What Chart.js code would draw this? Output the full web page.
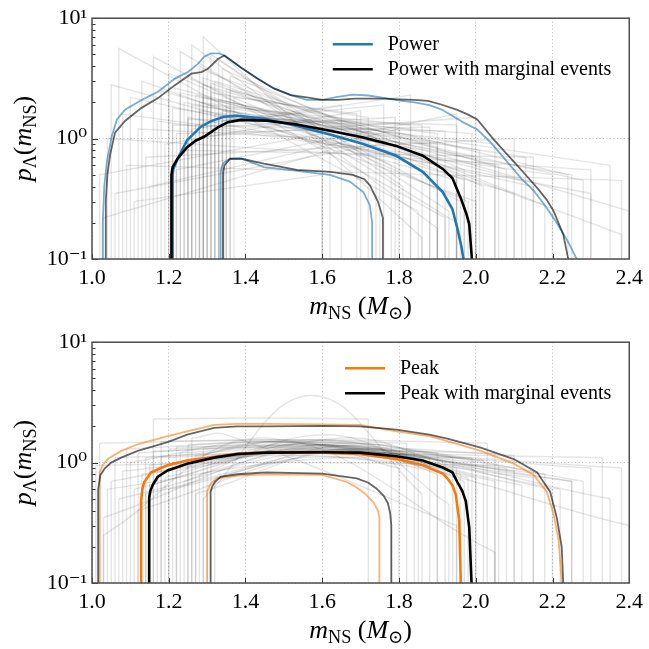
<!DOCTYPE html>
<html><head><meta charset="utf-8">
<script src="https://cdn.jsdelivr.net/npm/chart.js@4.4.1/dist/chart.umd.min.js"></script>
<style>
html,body{margin:0;padding:0;background:#fff;width:649px;height:649px;overflow:hidden}
canvas{position:absolute;left:0}
</style></head>
<body>
<canvas id="cTop" width="649" height="325" style="top:0px;width:649px;height:325px"></canvas>
<canvas id="cBot" width="649" height="325" style="top:324px;width:649px;height:325px"></canvas>
<script>
// ---------- axes ----------
const FLOOR = 0.05;               // below the visible range: curves fall off the bottom
const xTickValues = [1.0, 1.2, 1.4, 1.6, 1.8, 2.0, 2.2, 2.4];
const yTickValues = [0.1, 1, 10];
const yTickLabels = ['10\u207B\u00B9', '10\u2070', '10\u00B9'];
const yMinorTicks = [0.2,0.3,0.4,0.5,0.6,0.7,0.8,0.9,2,3,4,5,6,7,8,9];

// ---------- top panel : Power ----------
const powerLabels = ['Power', 'Power with marginal events'];
const powerMedX = [1.21,1.212,1.223,1.248,1.283,1.309,1.343,1.378,1.415,1.455,1.534,1.62,1.707,1.793,1.862,1.914,1.939,1.952,1.962,1.968];
const powerMedY = [0.5,0.56,0.68,0.97,1.25,1.39,1.52,1.55,1.5,1.45,1.27,1.08,0.9,0.72,0.53,0.36,0.26,0.18,0.13,0.1];
const powerHiX = [1.028,1.032,1.039,1.052,1.065,1.086,1.129,1.172,1.216,1.25,1.276,1.293,1.31,1.331,1.345,1.388,1.431,1.474,1.518,1.56,1.60,1.64,1.68,1.72,1.76,1.793,1.84,1.879,1.91,1.939,1.97,2.004,2.04,2.082,2.12,2.151,2.18,2.211,2.24,2.263];
const powerHiY = [0.2,0.4,0.65,1.06,1.44,1.74,2.09,2.45,3.15,3.57,4.17,4.8,5.1,5.1,4.9,3.9,3.15,2.61,2.3,2.1,2.1,2.22,2.32,2.28,2.18,2.09,2.0,1.9,1.75,1.55,1.35,1.19,0.92,0.64,0.46,0.37,0.28,0.2,0.14,0.1];
const powerLoX = [1.335,1.338,1.343,1.36,1.39,1.448,1.534,1.62,1.672,1.707,1.724,1.73];
const powerLoY = [0.52,0.58,0.63,0.68,0.68,0.58,0.54,0.5,0.44,0.36,0.28,0.2];
const powerMargMedX = [1.207,1.21,1.223,1.248,1.27,1.293,1.328,1.354,1.388,1.455,1.534,1.62,1.707,1.793,1.862,1.914,1.939,1.961,1.975,1.983,1.99];
const powerMargMedY = [0.5,0.58,0.68,0.85,0.96,1.04,1.24,1.37,1.43,1.41,1.31,1.16,1.02,0.87,0.72,0.56,0.47,0.32,0.24,0.195,0.1];
const powerMargHiX = [1.036,1.04,1.047,1.06,1.086,1.129,1.172,1.216,1.259,1.285,1.302,1.328,1.345,1.388,1.431,1.474,1.518,1.56,1.60,1.64,1.685,1.72,1.763,1.80,1.84,1.875,1.91,1.952,1.98,2.004,2.047,2.08,2.108,2.135,2.16,2.185,2.203,2.228,2.241];
const powerMargHiY = [0.3,0.5,0.73,1.12,1.4,1.8,2.17,2.78,3.46,3.57,3.8,4.58,4.9,3.9,3.15,2.61,2.3,2.2,2.1,2.1,2.15,2.15,2.15,2.12,2.1,2.06,1.92,1.73,1.58,1.44,0.98,0.75,0.6,0.48,0.39,0.31,0.25,0.16,0.1];
const powerMargLoX = [1.342,1.345,1.36,1.39,1.448,1.534,1.62,1.68,1.71,1.724,1.745,1.758];
const powerMargLoY = [0.52,0.6,0.68,0.68,0.62,0.55,0.53,0.5,0.46,0.41,0.3,0.22];
// posterior draws of the power model: value at m_min and at m_max
const powerSampMmin = [1.03,1.04,1.05,1.06,1.07,1.08,1.09,1.10,1.12,1.13,1.15,1.16,1.17,1.18,1.19,1.20,1.21,1.22,1.23,1.24,1.25,1.25,1.26,1.27,1.27,1.28,1.28,1.29,1.29,1.30,1.30,1.31,1.31,1.32,1.32,1.33,1.33,1.34,1.34,1.35,1.35,1.36,1.37,1.22,1.02,1.14,1.26,1.30,1.11,1.20,1.24,1.28,1.33,1.36,1.29,1.21,1.23,1.26,1.31,1.34,1.25,1.29,1.32];
const powerSampPmin = [0.22,1.0,2.8,0.35,5.6,1.6,0.6,2.2,1.2,3.0,0.4,4.8,1.4,2.5,0.9,3.5,1.8,1.1,5.3,2.0,3.2,1.5,6.0,2.3,1.3,4.0,1.7,2.8,7.0,1.9,3.6,2.4,5.0,1.6,3.0,4.5,2.1,1.4,3.8,2.6,1.8,3.3,2.2,0.55,0.5,0.7,1.2,1.05,0.3,2.7,0.8,2.0,1.5,2.5,3.2,1.3,2.4,1.9,2.9,1.7,1.45,2.2,1.25];
const powerSampMmax = [1.62,2.3,1.95,1.75,1.85,2.05,2.38,2.15,1.9,2.0,1.8,1.92,2.2,2.1,1.7,1.98,2.25,1.88,1.95,2.0,1.78,2.3,1.9,2.12,1.65,1.96,2.05,2.4,1.86,1.83,2.18,1.72,1.93,1.99,2.08,1.81,2.28,1.76,2.02,1.9,2.35,1.97,1.69,1.95,1.6,2.1,1.83,2.0,1.6,1.74,2.15,1.9,1.95,2.24,2.38,1.92,2.06,1.88,1.97,2.13,1.86,2.01,1.79];
const powerSampPmax = [0.8,0.55,0.45,0.9,0.25,0.6,0.45,0.4,0.9,0.3,1.2,0.22,0.5,0.35,1.7,0.3,0.5,1.25,0.2,0.7,0.6,0.35,0.18,0.45,1.9,0.3,0.9,0.25,0.15,1.3,0.28,1.5,0.25,1.1,0.55,0.4,0.45,1.9,0.4,0.85,0.6,0.55,1.6,1.6,1.1,1.0,2.3,1.5,0.5,1.0,0.7,1.1,1.3,0.5,0.16,1.15,0.6,0.95,0.45,0.7,1.3,0.8,1.5];

// ---------- bottom panel : Peak ----------
const peakLabels = ['Peak', 'Peak with marginal events'];
const peakMedX = [1.128,1.131,1.136,1.154,1.197,1.248,1.318,1.38,1.455,1.60,1.698,1.793,1.862,1.914,1.926,1.939,1.948,1.957,1.961];
const peakMedY = [0.48,0.6,0.69,0.83,0.95,1.04,1.12,1.19,1.21,1.21,1.18,1.07,0.95,0.81,0.74,0.65,0.54,0.33,0.1];
const peakHiX = [1.02,1.028,1.041,1.076,1.119,1.197,1.248,1.318,1.378,1.455,1.60,1.698,1.793,1.879,1.926,2.013,2.099,2.151,2.185,2.203,2.216,2.224];
const peakHiY = [0.83,0.95,1.07,1.25,1.42,1.66,1.82,2.06,2.1,2.1,2.08,2.06,1.82,1.66,1.51,1.25,0.98,0.79,0.57,0.37,0.225,0.1];
const peakLoX = [1.30,1.304,1.309,1.326,1.378,1.455,1.60,1.664,1.69,1.715,1.735,1.745,1.749];
const peakLoY = [0.57,0.62,0.67,0.74,0.78,0.8,0.79,0.69,0.62,0.54,0.46,0.4,0.35];
const peakMargMedX = [1.149,1.152,1.158,1.171,1.197,1.248,1.318,1.38,1.455,1.60,1.698,1.793,1.862,1.914,1.939,1.952,1.965,1.974,1.983,1.989];
const peakMargMedY = [0.51,0.58,0.65,0.76,0.86,0.98,1.1,1.18,1.21,1.22,1.21,1.13,1.04,0.91,0.83,0.69,0.58,0.48,0.29,0.1];
const peakMargHiX = [1.016,1.022,1.033,1.05,1.076,1.119,1.197,1.248,1.318,1.378,1.455,1.60,1.698,1.793,1.879,1.926,2.013,2.099,2.16,2.194,2.211,2.224,2.228];
const peakMargHiY = [0.6,0.79,0.89,1.0,1.1,1.25,1.48,1.71,1.94,2.0,2.0,2.02,2.0,1.88,1.71,1.58,1.33,1.07,0.83,0.57,0.35,0.2,0.1];
const peakMargLoX = [1.309,1.313,1.32,1.335,1.378,1.455,1.60,1.69,1.72,1.741,1.76,1.771,1.777,1.78];
const peakMargLoY = [0.57,0.63,0.69,0.76,0.8,0.83,0.81,0.74,0.68,0.61,0.53,0.46,0.38,0.3];
// posterior draws of the peak model: value at m_min, at the top, at m_max
const peakSampMmin = [1.01,1.02,1.16,1.29,1.03,1.05,1.07,1.08,1.10,1.11,1.12,1.13,1.14,1.15,1.16,1.17,1.18,1.19,1.20,1.21,1.22,1.23,1.24,1.25,1.26,1.27,1.28,1.29,1.30,1.31,1.32,1.12,1.06,1.09,1.14,1.18,1.22,1.25,1.04,1.20,1.27,1.15,1.03,1.26];
const peakSampPmin = [0.95,1.45,2.3,0.5,0.35,0.7,0.5,0.85,1.0,0.6,1.2,0.8,1.1,0.65,1.25,0.9,1.1,0.75,1.3,1.0,0.85,1.2,0.7,1.05,0.9,1.15,0.8,1.3,0.95,1.1,0.75,0.4,1.1,1.3,0.55,1.5,1.35,1.4,0.6,0.6,0.55,0.95,0.25,1.6];
const peakSampMtop = [1.5,1.55,1.44,1.57,1.6,1.55,1.65,1.5,1.45,1.6,1.5,1.55,1.6,1.65,1.55,1.5,1.6,1.55,1.6,1.65,1.6,1.55,1.6,1.6,1.65,1.55,1.6,1.6,1.6,1.62,1.7,1.6,1.5,1.55,1.7,1.5,1.6,1.5,1.55,1.65,1.7,1.55,1.45,1.35];
const peakSampPtop = [1.0,1.55,2.35,3.6,1.35,1.3,1.25,1.15,1.5,1.4,1.4,1.2,1.35,1.6,1.3,1.5,1.25,1.45,1.4,1.3,1.55,1.35,1.7,1.3,1.45,1.5,1.35,1.4,1.5,1.25,1.4,1.2,1.2,1.45,1.3,1.55,1.4,1.5,1.05,1.1,1.3,1.25,1.6,1.7];
const peakSampMmax = [2.06,2.03,1.72,1.86,2.2,2.1,2.35,1.95,1.85,2.05,1.9,2.15,2.0,1.92,2.25,1.98,2.3,1.88,2.12,2.02,1.96,2.18,1.9,2.08,1.94,2.22,2.0,1.84,2.15,2.38,1.97,1.8,2.33,2.25,2.28,1.82,2.1,1.78,1.99,2.4,1.93,2.05,2.05,1.95];
const peakSampPmax = [0.95,1.45,2.3,0.55,0.6,0.85,0.5,0.9,1.0,0.7,1.2,0.75,1.0,1.0,0.7,0.75,0.9,1.1,0.65,1.05,0.8,0.8,0.8,0.9,1.1,0.6,0.75,1.2,0.85,0.9,0.7,0.9,1.1,0.7,0.7,1.45,1.15,1.4,1.1,0.3,0.45,1.2,0.18,0.3];

// ---------- styles ----------
const SERIF = '"Liberation Serif", "DejaVu Serif", serif';
const BLUE = '#1f77b4', BLUE_BAND = 'rgba(31,119,180,0.6)';
const ORANGE = '#f8780c', ORANGE_BAND = 'rgba(255,127,14,0.6)';
const BLACK = '#000000', GREY_BAND = 'rgba(0,0,0,0.6)';
const SAMPLE = 'rgba(0,0,0,0.1)';

function curvePoints(xs, ys) {
  const pts = [{x: xs[0], y: FLOOR}];
  xs.forEach((x, i) => pts.push({x: x, y: ys[i]}));
  pts.push({x: xs[xs.length - 1], y: FLOOR});
  return pts;
}
function mainSet(xs, ys, color, width, label, legendIdx) {
  const d = {data: curvePoints(xs, ys), borderColor: color, borderWidth: width,
             pointRadius: 0, tension: 0, clip: 0, fill: false, label: label || ''};
  if (legendIdx !== undefined) d.legendIdx = legendIdx;
  return d;
}
function sampleStyle(d) {
  return Object.assign({borderColor: SAMPLE, borderWidth: 1.5, pointRadius: 0, clip: 0, fill: false, label: ''}, d);
}
function powerSamples() {
  return powerSampMmin.map((m0, i) => sampleStyle({tension: 0, data: [
    {x: m0, y: FLOOR}, {x: m0, y: powerSampPmin[i]},
    {x: powerSampMmax[i], y: powerSampPmax[i]}, {x: powerSampMmax[i], y: FLOOR}]}));
}
function peakSamples() {
  const out = [];
  peakSampMmin.forEach((m0, i) => {
    out.push(sampleStyle({tension: 0, spanGaps: false, data: [
      {x: m0, y: FLOOR}, {x: m0, y: peakSampPmin[i]}, {x: peakSampMtop[i], y: null},
      {x: peakSampMmax[i], y: peakSampPmax[i]}, {x: peakSampMmax[i], y: FLOOR}]}));
    out.push(sampleStyle({tension: 0.4, data: [
      {x: m0, y: peakSampPmin[i]}, {x: peakSampMtop[i], y: peakSampPtop[i]},
      {x: peakSampMmax[i], y: peakSampPmax[i]}]}));
  });
  return out;
}

// rich text (italic / subscript) for axis titles
function richWidth(ctx, segs, size) {
  let w = 0;
  segs.forEach(s => { const fs = s.sub ? size * 0.7 : size;
    ctx.font = (s.it ? 'italic ' : '') + fs + 'px ' + SERIF; w += ctx.measureText(s.t).width; });
  return w;
}
function drawRich(ctx, segs, size) {
  let x = -richWidth(ctx, segs, size) / 2;
  segs.forEach(s => { const fs = s.sub ? size * 0.7 : size;
    ctx.font = (s.it ? 'italic ' : '') + fs + 'px ' + SERIF;
    ctx.fillText(s.t, x, s.sub ? size * 0.2 : 0); x += ctx.measureText(s.t).width; });
}
const xTitle = [{t:'m', it:true}, {t:'NS', sub:true}, {t:' ('}, {t:'M', it:true}, {t:'\u2299', sub:true}, {t:')'}];
const yTitle = [{t:'p', it:true}, {t:'\u039B', sub:true}, {t:'('}, {t:'m', it:true}, {t:'NS', sub:true}, {t:')'}];

const decor = {
  id: 'decor',
  afterDatasetsDraw(chart) {
    const {ctx, chartArea: a, scales: {x, y}} = chart;
    ctx.save();
    ctx.strokeStyle = '#333'; ctx.lineWidth = 1;
    ctx.beginPath();
    x.ticks.forEach(t => { const p = Math.round(x.getPixelForValue(t.value)) + 0.5;
      ctx.moveTo(p, a.bottom); ctx.lineTo(p, a.bottom - 5); });
    y.ticks.forEach(t => { const p = Math.round(y.getPixelForValue(t.value)) + 0.5;
      ctx.moveTo(a.left, p); ctx.lineTo(a.left + 6, p); });
    yMinorTicks.forEach(v => { const p = Math.round(y.getPixelForValue(v)) + 0.5;
      ctx.moveTo(a.left, p); ctx.lineTo(a.left + 3.5, p); });
    ctx.stroke();
    ctx.strokeStyle = '#4d4d4d'; ctx.lineWidth = 1.5;
    ctx.strokeRect(a.left, a.top, a.right - a.left, a.bottom - a.top);
    ctx.restore();
  },
  afterDraw(chart) {
    const {ctx, chartArea: a} = chart;
    ctx.save();
    ctx.fillStyle = '#000'; ctx.textBaseline = 'alphabetic'; ctx.textAlign = 'left';
    ctx.save(); ctx.translate((a.left + a.right) / 2, a.bottom + 55); drawRich(ctx, xTitle, 26); ctx.restore();
    ctx.save(); ctx.translate(31, (a.top + a.bottom) / 2); ctx.rotate(-Math.PI / 2); drawRich(ctx, yTitle, 26); ctx.restore();
    const items = chart.data.datasets.filter(d => d.legendIdx !== undefined).sort((p, q) => p.legendIdx - q.legendIdx);
    ctx.font = '20px ' + SERIF;
    const maxW = Math.max(...items.map(d => ctx.measureText(d.label).width));
    const tx = a.right - 18 - maxW;
    ctx.textBaseline = 'middle';
    items.forEach((d, i) => {
      const yy = a.top + 26 + i * 25;
      ctx.strokeStyle = d.borderColor; ctx.lineWidth = 2.6;
      ctx.beginPath(); ctx.moveTo(tx - 55, yy); ctx.lineTo(tx - 15, yy); ctx.stroke();
      ctx.fillText(d.label, tx, yy + 1);
    });
    ctx.restore();
  }
};

function makeChart(id, datasets) {
  return new Chart(document.getElementById(id), {
    type: 'line',
    data: {datasets: datasets},
    plugins: [decor],
    options: {
      responsive: false, animation: false, events: [],
      layout: {padding: {top: 13, right: 16, left: 0, bottom: 0}},
      plugins: {legend: {display: false}, tooltip: {enabled: false}},
      scales: {
        x: {type: 'linear', min: 1.0, max: 2.4,
            afterBuildTicks: s => { s.ticks = xTickValues.map(v => ({value: v})); },
            afterFit: s => { s.height = 66; },
            ticks: {autoSkip: false, maxRotation: 0, padding: 6, color: '#000',
                    font: {family: SERIF, size: 22}, callback: v => Number(v).toFixed(1)},
            grid: {color: '#b3b3b3', lineWidth: 0.9, drawTicks: false},
            border: {display: false, dash: [1, 2.5]}},
        y: {type: 'logarithmic', min: 0.1, max: 10,
            afterBuildTicks: s => { s.ticks = yTickValues.map(v => ({value: v, major: true})); },
            afterFit: s => { s.width = 92; },
            ticks: {autoSkip: false, padding: 5, color: '#000',
                    font: {family: SERIF, size: 22}, callback: v => yTickLabels[yTickValues.indexOf(v)]},
            grid: {color: '#b3b3b3', lineWidth: 0.9, drawTicks: false},
            border: {display: false, dash: [1, 2.5]}}
      }
    }
  });
}

makeChart('cTop', [
  mainSet(powerMargMedX, powerMargMedY, BLACK, 2.6, powerLabels[1], 1),
  mainSet(powerMedX, powerMedY, BLUE, 2.6, powerLabels[0], 0),
  mainSet(powerMargHiX, powerMargHiY, GREY_BAND, 1.8),
  mainSet(powerHiX, powerHiY, BLUE_BAND, 1.8),
  mainSet(powerMargLoX, powerMargLoY, GREY_BAND, 1.8),
  mainSet(powerLoX, powerLoY, BLUE_BAND, 1.8)
].concat(powerSamples()));

makeChart('cBot', [
  mainSet(peakMargMedX, peakMargMedY, BLACK, 2.6, peakLabels[1], 1),
  mainSet(peakMedX, peakMedY, ORANGE, 2.6, peakLabels[0], 0),
  mainSet(peakMargHiX, peakMargHiY, GREY_BAND, 1.8),
  mainSet(peakHiX, peakHiY, ORANGE_BAND, 1.8),
  mainSet(peakMargLoX, peakMargLoY, GREY_BAND, 1.8),
  mainSet(peakLoX, peakLoY, ORANGE_BAND, 1.8)
].concat(peakSamples()));
</script>
</body></html>
